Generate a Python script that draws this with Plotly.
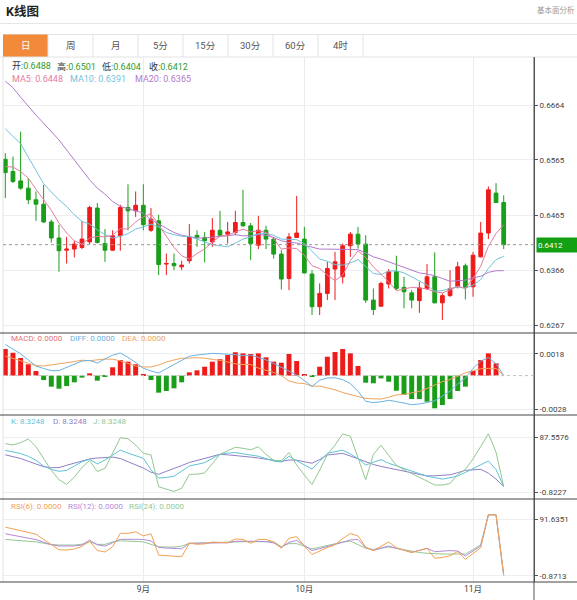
import plotly.graph_objects as go

# ---------------- data ----------------
dates = [
    "2023-08-08", "2023-08-09", "2023-08-10", "2023-08-11", "2023-08-14", "2023-08-15", "2023-08-16", "2023-08-17", "2023-08-18",
    "2023-08-21", "2023-08-22", "2023-08-23", "2023-08-24", "2023-08-25", "2023-08-28", "2023-08-29", "2023-08-30", "2023-08-31",
    "2023-09-01", "2023-09-04", "2023-09-05", "2023-09-06", "2023-09-07", "2023-09-08", "2023-09-11", "2023-09-12", "2023-09-13",
    "2023-09-14", "2023-09-15", "2023-09-18", "2023-09-19", "2023-09-20", "2023-09-21", "2023-09-22", "2023-09-25", "2023-09-26",
    "2023-09-27", "2023-09-28", "2023-09-29",
    "2023-10-02", "2023-10-03", "2023-10-04", "2023-10-05", "2023-10-06", "2023-10-09", "2023-10-10", "2023-10-11", "2023-10-12",
    "2023-10-13", "2023-10-16", "2023-10-17", "2023-10-18", "2023-10-19", "2023-10-20", "2023-10-23", "2023-10-24", "2023-10-25",
    "2023-10-26", "2023-10-27", "2023-10-30", "2023-10-31",
    "2023-11-01", "2023-11-02", "2023-11-03", "2023-11-06", "2023-11-07"]

open_ = [0.6566, 0.6544, 0.6527, 0.6514, 0.6493, 0.6485, 0.6453, 0.6424, 0.6402, 0.6404,
         0.6407, 0.6417, 0.6478, 0.6414, 0.6402, 0.6428, 0.6479, 0.6473, 0.6483, 0.6438,
         0.6455, 0.6377, 0.6378, 0.6372, 0.6383, 0.6429, 0.6425, 0.6417, 0.6438, 0.6431,
         0.6434, 0.6452, 0.6446, 0.6411, 0.6438, 0.6422, 0.6395, 0.6351, 0.6425, 0.6422,
         0.6359, 0.6300, 0.6324, 0.6368, 0.6354, 0.6410, 0.6431, 0.6413, 0.6312, 0.6301,
         0.6341, 0.6363, 0.6335, 0.6325, 0.6311, 0.6333, 0.6354, 0.6307, 0.6320, 0.6336,
         0.6374, 0.6336, 0.6390, 0.6433, 0.6505, 0.6488]
high = [0.6577, 0.6571, 0.6616, 0.6532, 0.6508, 0.6520, 0.6457, 0.6448, 0.6426, 0.6419,
        0.6455, 0.6482, 0.6487, 0.6440, 0.6438, 0.6484, 0.6521, 0.6508, 0.6521, 0.6478,
        0.6466, 0.6396, 0.6396, 0.6383, 0.6449, 0.6438, 0.6435, 0.6460, 0.6473, 0.6453,
        0.6473, 0.6511, 0.6451, 0.6464, 0.6446, 0.6426, 0.6402, 0.6433, 0.6500, 0.6444,
        0.6366, 0.6342, 0.6381, 0.6399, 0.6414, 0.6435, 0.6444, 0.6429, 0.6333, 0.6345,
        0.6368, 0.6392, 0.6354, 0.6330, 0.6345, 0.6377, 0.6398, 0.6324, 0.6366, 0.6381,
        0.6378, 0.6399, 0.6453, 0.6517, 0.6523, 0.6501]
low = [0.6496, 0.6523, 0.6511, 0.6485, 0.6455, 0.6451, 0.6416, 0.6363, 0.6378, 0.6389,
       0.6404, 0.6413, 0.6414, 0.6381, 0.6401, 0.6401, 0.6438, 0.6462, 0.6438, 0.6435,
       0.6357, 0.6357, 0.6366, 0.6366, 0.6378, 0.6408, 0.6380, 0.6408, 0.6426, 0.6414,
       0.6429, 0.6444, 0.6384, 0.6404, 0.6404, 0.6387, 0.6331, 0.6330, 0.6424, 0.6360,
       0.6285, 0.6285, 0.6312, 0.6312, 0.6342, 0.6390, 0.6405, 0.6307, 0.6285, 0.6300,
       0.6333, 0.6330, 0.6297, 0.6297, 0.6289, 0.6330, 0.6306, 0.6276, 0.6318, 0.6333,
       0.6313, 0.6318, 0.6389, 0.6422, 0.6487, 0.6404]
close = [0.6542, 0.6526, 0.6514, 0.6493, 0.6485, 0.6453, 0.6424, 0.6401, 0.6404, 0.6413,
         0.6422, 0.6479, 0.6416, 0.6402, 0.6428, 0.6479, 0.6473, 0.6483, 0.6448, 0.6458,
         0.6376, 0.6378, 0.6374, 0.6375, 0.6426, 0.6425, 0.6419, 0.6438, 0.6429, 0.6435,
         0.6452, 0.6446, 0.6414, 0.6438, 0.6422, 0.6395, 0.6350, 0.6426, 0.6433, 0.6361,
         0.6300, 0.6324, 0.6369, 0.6381, 0.6410, 0.6431, 0.6413, 0.6312, 0.6295, 0.6342,
         0.6363, 0.6333, 0.6327, 0.6312, 0.6334, 0.6354, 0.6307, 0.6320, 0.6333, 0.6372,
         0.6335, 0.6393, 0.6433, 0.6511, 0.6488, 0.6412]

ma5 = [0.6553, 0.6552, 0.6544, 0.6532, 0.6512, 0.6494, 0.6474, 0.6451, 0.6433, 0.6419,
       0.6413, 0.6424, 0.6427, 0.6426, 0.6429, 0.6441, 0.6440, 0.6453, 0.6462, 0.6468,
       0.6448, 0.6429, 0.6407, 0.6392, 0.6386, 0.6396, 0.6404, 0.6417, 0.6427, 0.6429,
       0.6435, 0.6440, 0.6435, 0.6437, 0.6434, 0.6423, 0.6404, 0.6406, 0.6405, 0.6393,
       0.6374, 0.6369, 0.6357, 0.6347, 0.6357, 0.6383, 0.6401, 0.6389, 0.6372, 0.6359,
       0.6345, 0.6329, 0.6332, 0.6335, 0.6334, 0.6332, 0.6327, 0.6325, 0.6330, 0.6337,
       0.6333, 0.6351, 0.6373, 0.6409, 0.6432, 0.6448]
ma10 = [0.6621, 0.6608, 0.6594, 0.6570, 0.6547, 0.6522, 0.6507, 0.6493, 0.6481, 0.6466,
        0.6454, 0.6449, 0.6439, 0.6430, 0.6424, 0.6427, 0.6432, 0.6440, 0.6444, 0.6449,
        0.6444, 0.6434, 0.6430, 0.6427, 0.6427, 0.6422, 0.6416, 0.6412, 0.6410, 0.6408,
        0.6415, 0.6422, 0.6426, 0.6432, 0.6432, 0.6429, 0.6422, 0.6421, 0.6421, 0.6414,
        0.6399, 0.6386, 0.6382, 0.6376, 0.6375, 0.6379, 0.6385, 0.6373, 0.6360, 0.6358,
        0.6364, 0.6365, 0.6361, 0.6354, 0.6346, 0.6339, 0.6328, 0.6329, 0.6333, 0.6336,
        0.6333, 0.6339, 0.6349, 0.6369, 0.6385, 0.6391]
ma20 = [0.6707, 0.6695, 0.6678, 0.6661, 0.6646, 0.6631, 0.6616, 0.6601, 0.6583, 0.6565,
        0.6545, 0.6529, 0.6514, 0.6503, 0.6490, 0.6481, 0.6477, 0.6473, 0.6469, 0.6457,
        0.6449, 0.6441, 0.6434, 0.6429, 0.6426, 0.6424, 0.6424, 0.6426, 0.6427, 0.6428,
        0.6430, 0.6428, 0.6428, 0.6430, 0.6429, 0.6425, 0.6419, 0.6416, 0.6415, 0.6411,
        0.6407, 0.6404, 0.6404, 0.6404, 0.6403, 0.6404, 0.6403, 0.6397, 0.6390, 0.6386,
        0.6381, 0.6376, 0.6371, 0.6365, 0.6361, 0.6359, 0.6356, 0.6351, 0.6346, 0.6347,
        0.6348, 0.6352, 0.6355, 0.6362, 0.6365, 0.6365]

macd = [0.00221, 0.00190, 0.00146, 0.00094, 0.00038, -0.00037, -0.00092, -0.00109, -0.00087, -0.00056,
        -0.00017, 0.00019, -0.00042, -0.00009, 0.00069, 0.00130, 0.00116, 0.00094, 0.00013, -0.00037,
        -0.00142, -0.00128, -0.00106, -0.00056, 0.00027, 0.00044, 0.00074, 0.00116, 0.00136, 0.00171,
        0.00194, 0.00185, 0.00180, 0.00185, 0.00152, 0.00116, 0.00107, 0.00180, 0.00121, 0.00013,
        -0.00009, 0.00074, 0.00157, 0.00196, 0.00221, 0.00185, 0.00080, -0.00059, -0.00064, -0.00023,
        -0.00051, -0.00126, -0.00161, -0.00195, -0.00195, -0.00217, -0.00272, -0.00245, -0.00195, -0.00128,
        -0.00092, 0.00038, 0.00130, 0.00185, 0.00102, 0.0]
diff = [0.00259, 0.00221, 0.00181, 0.00130, 0.00080, 0.00059, 0.00041, 0.00042, 0.00069, 0.00094,
        0.00121, 0.00126, 0.00105, 0.00138, 0.00170, 0.00188, 0.00152, 0.00108, 0.00061, 0.00038,
        0.00021, 0.00057, 0.00092, 0.00126, 0.00161, 0.00171, 0.00180, 0.00185, 0.00182, 0.00180,
        0.00174, 0.00166, 0.00170, 0.00151, 0.00131, 0.00101, 0.00069, 0.00038, 0.00005, -0.00041,
        -0.00091, -0.00038, -0.00020, -0.00018, -0.00034, -0.00067, -0.00131, -0.00214, -0.00225, -0.00218,
        -0.00205, -0.00216, -0.00232, -0.00242, -0.00236, -0.00225, -0.00210, -0.00170, -0.00130, -0.00070,
        -0.00021, 0.00060, 0.00120, 0.00150, 0.00100, 0.0]
dea = [0.00163, 0.00142, 0.00126, 0.00105, 0.00084, 0.00080, 0.00087, 0.00096, 0.00107, 0.00117,
       0.00128, 0.00124, 0.00130, 0.00138, 0.00136, 0.00123, 0.00101, 0.00080, 0.00072, 0.00072,
       0.00088, 0.00113, 0.00130, 0.00144, 0.00146, 0.00149, 0.00145, 0.00138, 0.00126, 0.00113,
       0.00098, 0.00092, 0.00092, 0.00063, 0.00047, 0.00026, 0.00001, -0.00045, -0.00062, -0.00066,
       -0.00089, -0.00087, -0.00103, -0.00118, -0.00141, -0.00157, -0.00178, -0.00190, -0.00193, -0.00195,
       -0.00180, -0.00161, -0.00156, -0.00146, -0.00131, -0.00107, -0.00080, -0.00050, -0.00033, -0.00006,
       0.00023, 0.00040, 0.00057, 0.00060, 0.00060, 0.0]

kdj_k = [66.5, 64.1, 61.5, 57.0, 50.6, 41.3, 36.0, 32.9, 34.4, 41.3,
         48.2, 52.2, 44.7, 51.1, 58.6, 67.0, 62.2, 58.1, 53.8, 35.3,
         22.0, 23.1, 25.0, 33.2, 41.4, 44.0, 46.9, 53.6, 60.2, 62.2,
         63.0, 61.0, 59.4, 57.2, 53.2, 49.3, 47.9, 56.9, 49.8, 42.7,
         36.5, 49.1, 62.0, 64.4, 66.8, 60.7, 53.3, 43.0, 47.2, 51.7,
         45.9, 41.4, 37.3, 33.1, 29.1, 25.2, 22.5, 20.4, 22.6, 25.5,
         31.1, 37.6, 44.3, 49.5, 35.8, 8.3248]
kdj_d = [59.4, 56.5, 53.5, 49.0, 44.5, 40.3, 38.7, 38.9, 42.6, 46.3,
         49.8, 52.8, 54.3, 55.6, 55.7, 53.5, 48.3, 43.2, 38.1, 31.5,
         28.1, 32.9, 37.1, 42.1, 47.1, 50.4, 53.8, 57.2, 60.2, 59.4,
         58.5, 57.3, 55.7, 54.3, 52.8, 50.9, 48.8, 51.1, 50.8, 48.2,
         45.9, 51.9, 59.1, 60.4, 61.7, 57.5, 52.7, 48.2, 43.8, 40.8,
         38.1, 35.2, 32.9, 30.3, 27.8, 25.4, 25.7, 26.5, 27.3, 30.8,
         34.4, 35.3, 36.1, 30.0, 20.5, 8.3248]
kdj_j = [77.4, 75.2, 79.0, 84.8, 72.6, 53.5, 34.5, 19.4, 12.0, 23.4,
         39.3, 50.3, 32.6, 37.7, 63.0, 86.8, 85.3, 75.0, 61.8, 59.3,
         8.0, 3.8, 0.6, 5.6, 27.9, 28.3, 30.3, 45.1, 60.2, 65.9,
         71.5, 69.9, 67.5, 72.3, 60.2, 50.6, 50.0, 63.1, 42.9, 27.0,
         11.7, 34.8, 59.8, 75.2, 92.9, 89.6, 55.4, 19.3, 60.0, 74.7,
         58.5, 42.7, 35.3, 29.5, 24.1, 17.2, 10.9, 10.9, 13.3, 27.8,
         36.0, 53.0, 72.6, 93.3, 63.6, 8.3248]

rsi6 = [78.4, 75.6, 73.0, 70.4, 66.8, 58.3, 50.2, 41.5, 41.0, 42.7,
        47.1, 55.4, 40.2, 37.8, 46.4, 68.3, 68.3, 70.9, 64.0, 67.5,
        32.7, 31.6, 30.1, 30.1, 52.0, 50.5, 51.0, 54.1, 53.4, 52.9,
        59.0, 58.2, 52.1, 58.5, 58.3, 54.3, 43.8, 60.3, 62.9, 47.2,
        33.7, 39.4, 45.1, 49.5, 59.6, 68.1, 64.0, 45.9, 40.0, 47.2,
        54.1, 44.9, 40.6, 36.8, 40.2, 43.7, 27.6, 29.0, 31.7, 38.6,
        25.9, 35.3, 44.8, 98.5, 98.5, 0.0]
rsi12 = [67.6, 65.2, 62.7, 60.5, 58.0, 53.8, 49.7, 47.6, 47.6, 47.6,
         49.4, 57.2, 49.5, 47.4, 52.9, 58.5, 58.5, 58.5, 58.3, 55.9,
         45.3, 44.3, 43.3, 43.0, 52.0, 52.1, 52.3, 52.5, 52.8, 52.9,
         55.4, 55.9, 55.4, 55.1, 54.8, 52.5, 45.6, 53.5, 56.6, 48.4,
         40.2, 43.3, 46.4, 50.0, 53.6, 57.4, 58.3, 44.8, 40.1, 44.0,
         47.6, 44.0, 40.7, 37.4, 40.6, 43.9, 38.3, 39.3, 40.1, 39.4,
         31.2, 39.4, 47.7, 98.5, 98.5, 0.0]
rsi24 = [58.3, 57.4, 56.4, 55.4, 54.3, 52.1, 50.0, 49.2, 49.2, 49.2,
         50.5, 54.3, 50.2, 50.3, 54.3, 56.1, 55.6, 55.1, 54.4, 50.3,
         46.3, 45.9, 45.8, 47.2, 52.0, 52.3, 52.8, 53.1, 53.6, 53.9,
         54.3, 54.6, 54.6, 54.6, 54.6, 54.6, 46.4, 51.5, 51.5, 47.4,
         43.0, 45.5, 48.5, 51.3, 54.1, 55.6, 50.2, 44.1, 42.0, 44.0,
         46.1, 43.8, 41.2, 38.7, 37.0, 35.7, 34.5, 34.5, 34.5, 34.5,
         34.5, 41.7, 49.5, 98.5, 98.5, 0.0]

month_ticks = ["2023-09-01", "2023-10-02", "2023-11-01"]
month_labels = ["9月", "10月", "11月"]
price_ticks = [0.6267, 0.6366, 0.6465, 0.6565, 0.6664]
macd_ticks = [-0.0028, 0.0018]
kdj_ticks = [-0.8227, 87.5576]
rsi_ticks = [-0.8713, 91.6351]
tabs = ["日", "周", "月", "5分", "15分", "30分", "60分", "4时"]

# ---------------- styles ----------------
FONT = "Roboto, Noto Sans CJK SC, sans-serif"
RED = "#ee1b1b"
GREEN = "#1a9e1a"
C_MA5, C_MA10, C_MA20 = "#e67d9f", "#74c2dc", "#b27acb"
C_DIFF, C_DEA = "#6cb2e2", "#f0a45c"
C_K, C_D, C_J = "#5fc3d8", "#8f7fc6", "#93c793"
C_R6, C_R12, C_R24 = "#f2a251", "#b48ad8", "#93c893"
GRID = "#eeeeee"
AXC = "#555555"

W, H = 577, 600
L, R, T, B = 3, 43, 57, 18
PW, PH = W - L - R, H - T - B


def X(px):
    return (px - L) / PW


def Y(py):
    return (H - B - py) / PH


d_main = [Y(333), 1.0]
d_macd = [Y(415), Y(333)]
d_kdj = [Y(499), Y(415)]
d_rsi = [0.0, Y(499)]

fig = go.Figure()

fig.add_trace(go.Candlestick(
    x=dates, open=open_, high=high, low=low, close=close,
    increasing=dict(line=dict(color=RED, width=1), fillcolor=RED),
    decreasing=dict(line=dict(color=GREEN, width=1), fillcolor=GREEN),
    whiskerwidth=0, xaxis="x", yaxis="y", showlegend=False, hoverinfo="skip"))
for arr, col in [(ma20, C_MA20), (ma10, C_MA10), (ma5, C_MA5)]:
    fig.add_trace(go.Scatter(x=dates, y=arr, mode="lines", line=dict(color=col, width=1),
                             xaxis="x", yaxis="y", showlegend=False, hoverinfo="skip"))

fig.add_trace(go.Bar(x=dates, y=macd, marker=dict(color=[RED if v >= 0 else GREEN for v in macd], line=dict(width=0)),
                     xaxis="x2", yaxis="y2", showlegend=False, hoverinfo="skip"))
for arr, col in [(dea, C_DEA), (diff, C_DIFF)]:
    fig.add_trace(go.Scatter(x=dates, y=arr, mode="lines", line=dict(color=col, width=1),
                             xaxis="x2", yaxis="y2", showlegend=False, hoverinfo="skip"))

for arr, col in [(kdj_d, C_D), (kdj_k, C_K), (kdj_j, C_J)]:
    fig.add_trace(go.Scatter(x=dates, y=arr, mode="lines", line=dict(color=col, width=1),
                             xaxis="x3", yaxis="y3", showlegend=False, hoverinfo="skip"))

for arr, col in [(rsi24, C_R24), (rsi12, C_R12), (rsi6, C_R6)]:
    fig.add_trace(go.Scatter(x=dates, y=arr, mode="lines", line=dict(color=col, width=1),
                             xaxis="x4", yaxis="y4", showlegend=False, hoverinfo="skip"))

xr = [-0.30, 68.95]
xbase = dict(type="category", range=xr, tickmode="array", tickvals=month_ticks, ticktext=month_labels,
             showgrid=True, gridcolor="#ebebeb", gridwidth=1, zeroline=False, showline=False,
             ticks="", fixedrange=True, automargin=False)


def yaxis(domain, rng, tv, tt):
    return dict(domain=domain, range=rng, side="right", tickmode="array", tickvals=tv, ticktext=tt,
                showgrid=True, gridcolor=GRID, zeroline=False, showline=True, linecolor=AXC, linewidth=1,
                ticks="outside", ticklen=3, tickcolor=AXC, tickfont=dict(size=8, color="#444", family=FONT),
                fixedrange=True, automargin=False)


layout = dict(
    width=W, height=H, margin=dict(l=L, r=R, t=T, b=B, autoexpand=False),
    paper_bgcolor="white", plot_bgcolor="white",
    font=dict(family=FONT, size=9, color="#333"),
    bargap=0.35, showlegend=False,
    xaxis=dict(xbase, anchor="y", showticklabels=False, rangeslider=dict(visible=False)),
    xaxis2=dict(xbase, anchor="y2", showticklabels=False),
    xaxis3=dict(xbase, anchor="y3", showticklabels=False),
    xaxis4=dict(xbase, anchor="y4", showticklabels=True, tickfont=dict(size=8.5, color="#444", family=FONT)),
    yaxis=yaxis(d_main, [0.62526, 0.67506], price_ticks, [f"{v:.4f}" for v in price_ticks]),
    yaxis2=yaxis(d_macd, [-0.003277, 0.003543], macd_ticks, [f"{v:.4f}" for v in macd_ticks]),
    yaxis3=yaxis(d_kdj, [-11.6, 123.4], kdj_ticks, [f"{v:.4f}" for v in kdj_ticks]),
    yaxis4=yaxis(d_rsi, [-11.15, 124.3], rsi_ticks, [f"{v:.4f}" for v in rsi_ticks]),
)
fig.update_layout(**layout)

shapes = []


def hline(py, x0, x1, color, width=1, dash="solid"):
    shapes.append(dict(type="line", xref="paper", yref="paper", x0=X(x0), x1=X(x1), y0=Y(py), y1=Y(py),
                       line=dict(color=color, width=width, dash=dash)))


def vline(px, y0, y1, color, width=1):
    shapes.append(dict(type="line", xref="paper", yref="paper", x0=X(px), x1=X(px), y0=Y(y0), y1=Y(y1),
                       line=dict(color=color, width=width)))


# header
hline(23.5, 0, 577, "#e6e6e6")
hline(34.5, 3, 577, "#e3e3e3")
shapes.append(dict(type="rect", xref="paper", yref="paper", x0=X(3), x1=X(48), y0=Y(57), y1=Y(34.5),
                   fillcolor="#f28a3a", line=dict(width=0)))
for i in range(len(tabs)):
    vline(48 + 45 * i, 34.5, 57, "#e3e3e3")
hline(57, 0, 577, "#e3e3e3")
# frame
vline(3, 57, 582, "#e2e2e2")
vline(534, 57, 600, AXC)
for py in (333, 415, 499, 582):
    hline(py, 0, 577, "#444444")
# last price dotted line and MACD zero line
shapes.append(dict(type="line", xref="paper", yref="y", x0=0, x1=1, y0=close[-1], y1=close[-1],
                   line=dict(color="#9a9a9a", width=1, dash="dot")))
shapes.append(dict(type="line", xref="paper", yref="y2", x0=0, x1=1, y0=0, y1=0,
                   line=dict(color="#c0c0c0", width=1, dash="dot")))
fig.update_layout(shapes=shapes)

ann = []


def text(px, py, s, size=9, color="#333", xanchor="left", **kw):
    ann.append(dict(xref="paper", yref="paper", x=X(px), y=Y(py), text=s, showarrow=False,
                    xanchor=xanchor, yanchor="middle", font=dict(size=size, color=color, family=FONT), **kw))


text(4, 11.5, "<b>K线图</b>", size=12.5, color="#222")
text(535, 9.5, "基本面分析", size=7.5, color="#9a9a9a")
for i, t in enumerate(tabs):
    text(25.5 + 45 * i, 46, t, size=9.5, color="white" if i == 0 else "#555", xanchor="center")

VAL = "#2f9d2f"
ohlc_lbl = [("开", open_[-1], 10), ("高", high[-1], 55), ("低", low[-1], 100), ("收", close[-1], 146.5)]
for lbl, v, px in ohlc_lbl:
    text(px, 66.5, f'<span style="color:#333">{lbl}:</span><span style="color:{VAL}">{v:.4f}</span>', size=9)
for lbl, arr, col, px in [("MA5", ma5, C_MA5, 10), ("MA10", ma10, C_MA10, 68), ("MA20", ma20, C_MA20, 133)]:
    text(px, 79, f"{lbl}: {arr[-1]:.4f}", size=9, color=col)
for lbl, arr, col, px in [("MACD", macd, "#e2707a", 9), ("DIFF", diff, C_DIFF, 68), ("DEA", dea, C_DEA, 120)]:
    text(px, 338.5, f"{lbl}: {arr[-1]:.4f}", size=8, color=col)
for lbl, arr, col, px in [("K", kdj_k, C_K, 9), ("D", kdj_d, C_D, 51), ("J", kdj_j, C_J, 91)]:
    text(px, 421.5, f"{lbl}: {arr[-1]:.4f}", size=8, color=col)
for lbl, arr, col, px in [("RSI(6)", rsi6, C_R6, 9), ("RSI(12)", rsi12, C_R12, 66), ("RSI(24)", rsi24, C_R24, 127)]:
    text(px, 506, f"{lbl}: {arr[-1]:.4f}", size=8, color=col)

# last price tag
ann.append(dict(xref="paper", yref="y", x=X(536), y=close[-1], text=f"{close[-1]:.4f}", showarrow=False,
                xanchor="left", yanchor="middle", align="left", width=44, height=12, bgcolor="#14a014",
                borderpad=1, font=dict(size=8, color="white", family=FONT)))
fig.update_layout(annotations=ann)

fig.write_html("out.html", config=dict(displayModeBar=False),
               post_script="document.body.style.margin='0px';document.body.style.padding='0px';"
                           "document.documentElement.style.overflow='hidden';")
